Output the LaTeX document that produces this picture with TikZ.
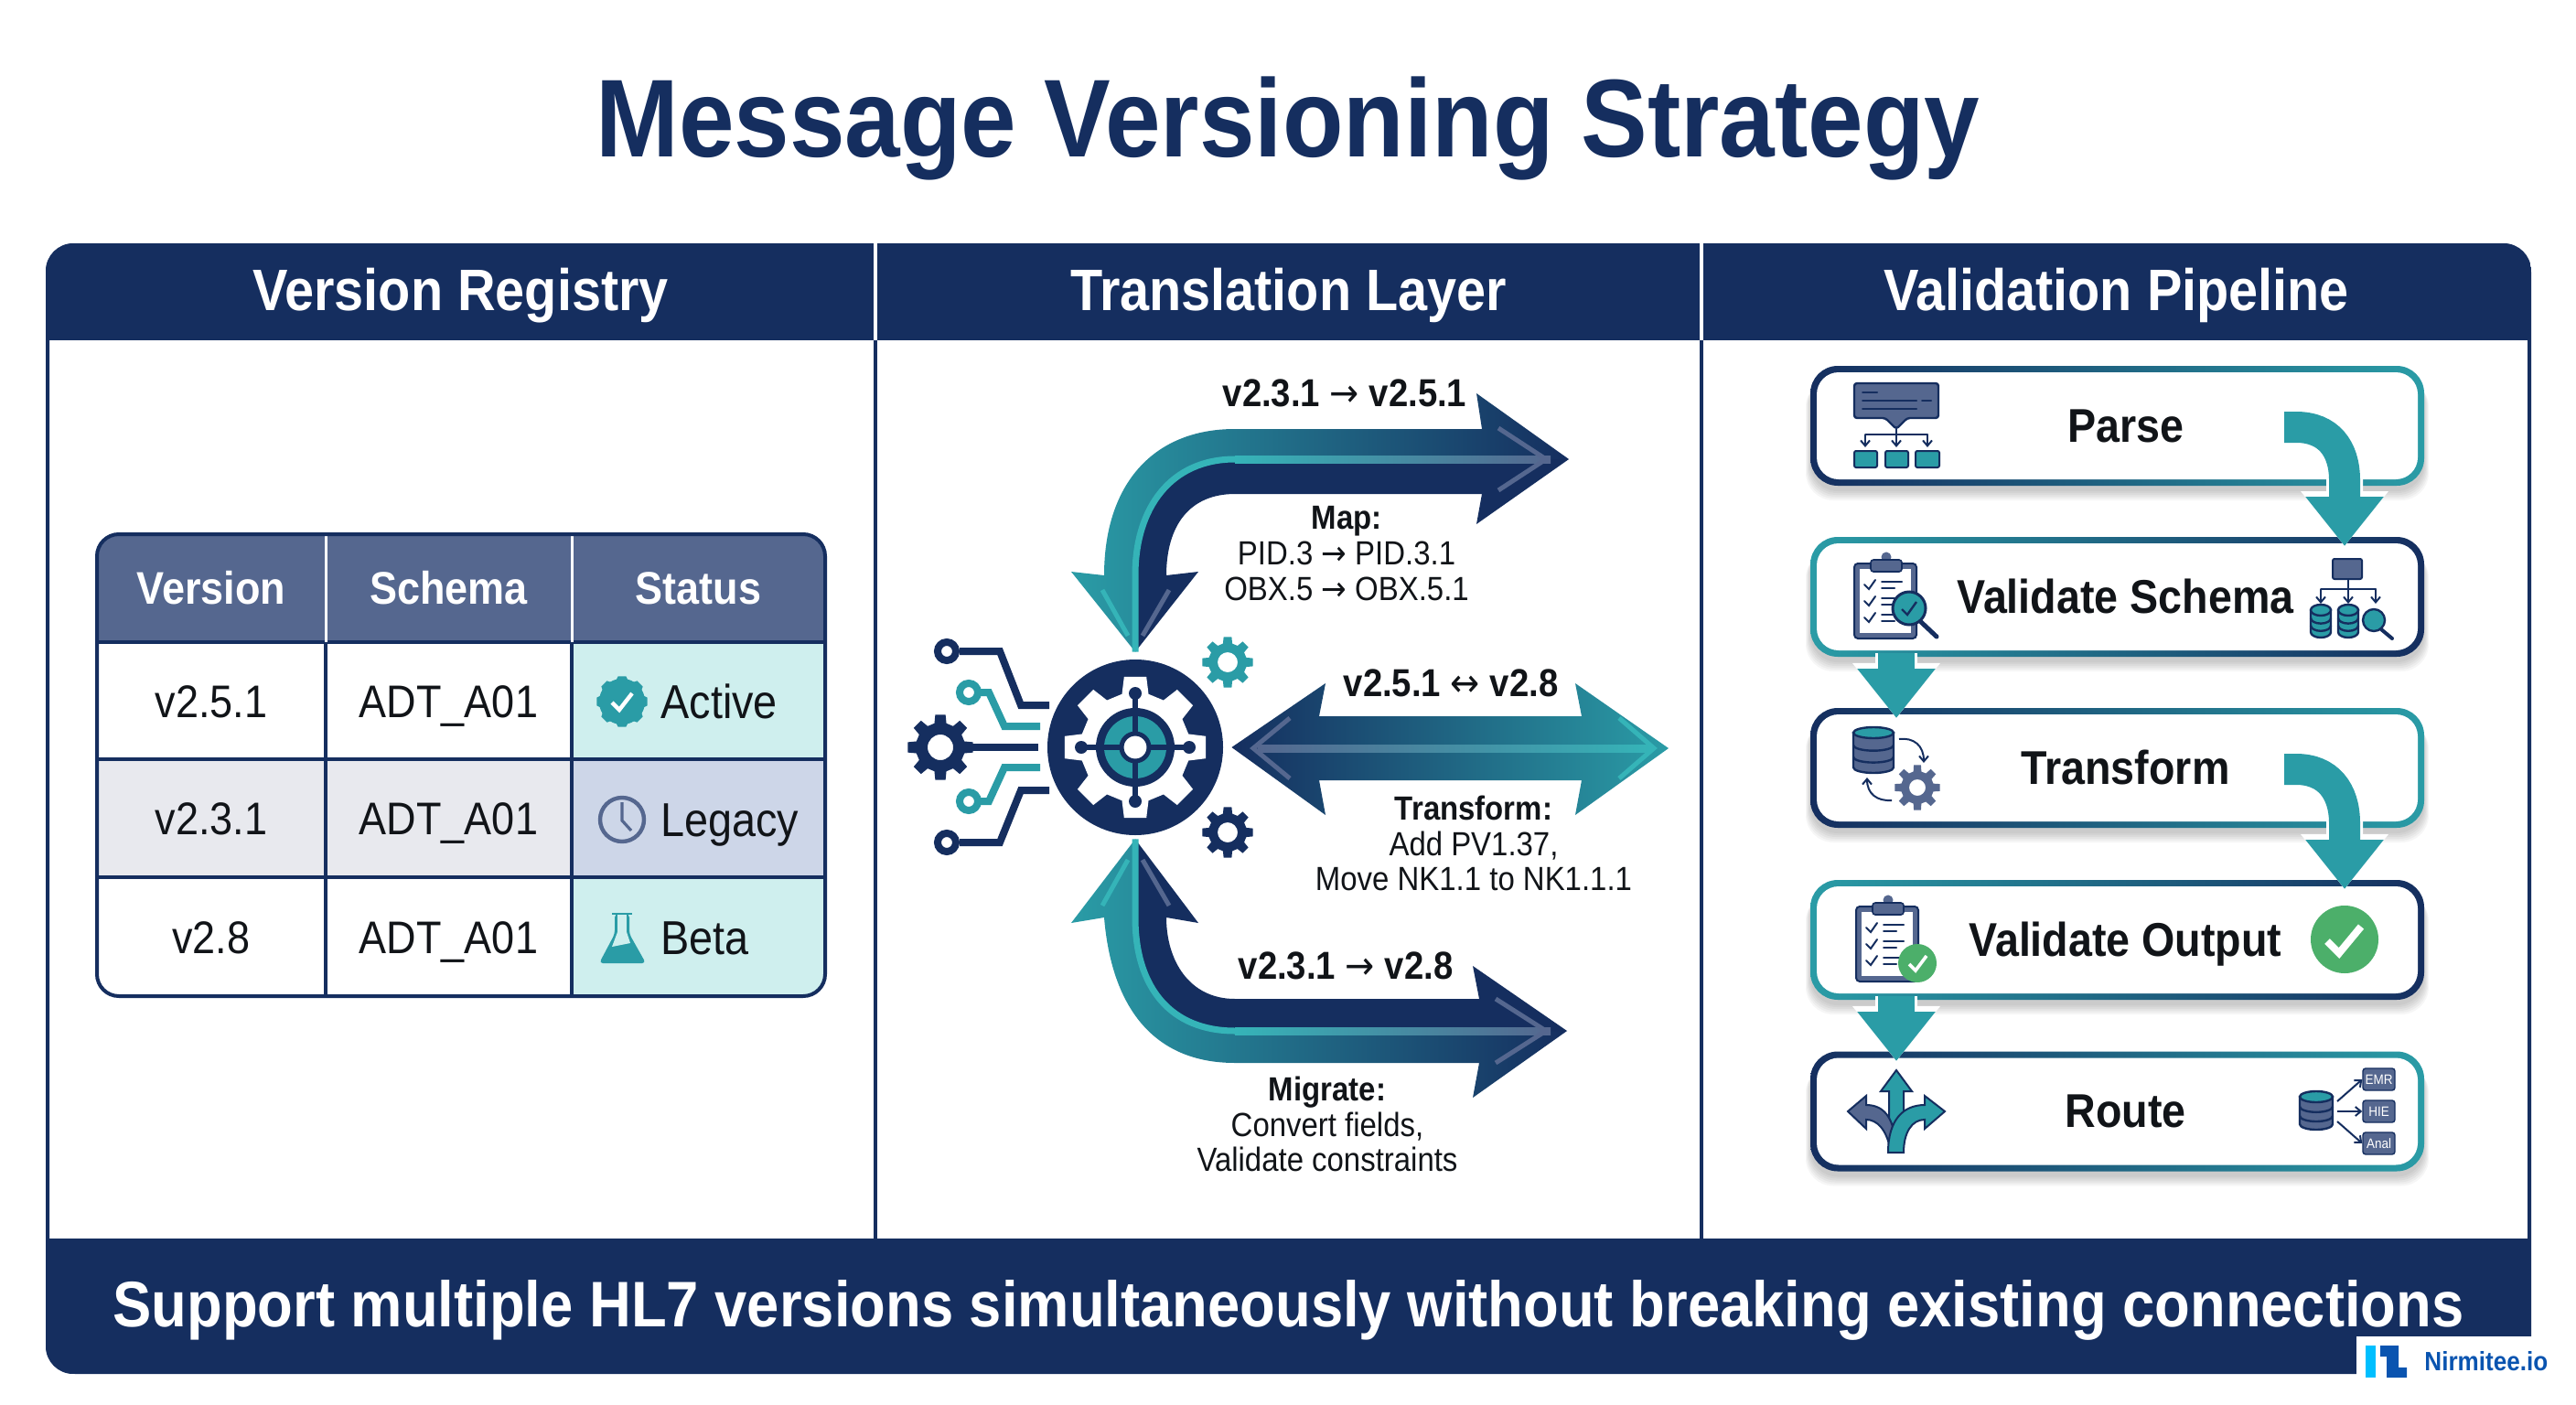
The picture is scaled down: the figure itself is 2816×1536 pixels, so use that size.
\documentclass[tikz,border=0pt]{standalone}
\usepackage{fontspec}
\setmainfont[FakeStretch=0.9]{Liberation Sans}
\newfontfamily\arrowfont[FakeStretch=0.9]{DejaVu Sans}
\usetikzlibrary{positioning,arrows.meta}
\definecolor{navy}{HTML}{152E5F}
\definecolor{tealmain}{HTML}{2A9CA6}
\definecolor{tealbright}{HTML}{35B4B8}
\definecolor{slate}{HTML}{55678F}
\definecolor{paleteal}{HTML}{CFEFEE}
\definecolor{palenavy}{HTML}{CDD6E8}
\definecolor{palegrey}{HTML}{E8E9EE}
\definecolor{okgreen}{HTML}{4CAF6A}
\definecolor{inkblack}{HTML}{111418}
\definecolor{logoblue}{HTML}{0A54B0}
\definecolor{logocyan}{HTML}{00BFFF}
\newcommand{\rarrow}{{\arrowfont\mdseries →}}
\newcommand{\barrow}{{\arrowfont\mdseries ↔}}
\tikzset{
  titletext/.style={text=navy,text height=39pt,text depth=0pt,font=\bfseries\fontsize{60.5}{66}\selectfont},
  panelhead/.style={fill=navy,text=white,inner sep=0pt,text height=20pt,text depth=0pt,font=\bfseries\fontsize{32}{36}\selectfont},
  footband/.style={fill=navy,text=white,inner sep=0pt,text height=22pt,text depth=0pt,font=\bfseries\fontsize{35.2}{40}\selectfont},
  headcell/.style={fill=slate,text=white,inner sep=0pt,minimum height=59pt,font=\bfseries\fontsize{25}{29}\selectfont},
  bodycell/.style={draw=navy,line width=2pt,inner sep=0pt,text=inkblack,text height=18pt,text depth=0pt,font=\fontsize{25}{29}\selectfont},
  statustext/.style={anchor=west,inner sep=0pt,text=inkblack,text height=18.6pt,text depth=0pt,font=\fontsize{26}{30}\selectfont},
  flowlabel/.style={inner sep=0pt,text=inkblack,font=\bfseries\fontsize{21.3}{25}\selectfont},
  flownote/.style={inner sep=0pt,align=center,text=inkblack,font=\fontsize{18.3}{19.4}\selectfont},
  stageframe/.style={rectangle,inner sep=0pt,minimum width=335.5pt,minimum height=65.5pt,rounded corners=15pt},
  stageinner/.style={rectangle,fill=white,inner sep=0pt,minimum width=328.5pt,minimum height=58.5pt,rounded corners=12pt},
  stagetext/.style={inner sep=0pt,text=inkblack,text height=17.5pt,text depth=0pt,font=\bfseries\fontsize{25.9}{30}\selectfont},
  tinybox/.style={rectangle,draw=navy,fill=slate,line width=.7pt,rounded corners=1.5pt,inner sep=0pt,minimum width=17.5pt,minimum height=12pt,text=white,font=\fontsize{7.5}{8}\selectfont},
  barb/.style={navy,line width=1pt,-{Straight Barb[length=3pt,width=5pt]}},
  iconline/.style={navy,line width=1pt,line cap=round},
  flowhalo/.style={white,line width=20pt,-{Triangle[width=46pt,length=30pt]}},
  flowfill/.style={tealmain,line width=17pt,-{Triangle[width=41pt,length=27pt]}},
  dropfill/.style={tealmain,line width=20pt,-{Triangle[width=41pt,length=27pt]}}
}
% gear: x, y, outer radius, root radius, hole radius, colour
\newcommand{\gearfill}[6]{
  \fill[#6,even odd rule,shift={(#1,#2)}] (-14:#4) \foreach \k in {0,45,...,315} { -- ({\k-14}:#4) -- ({\k-9}:#3) -- ({\k+9}:#3) -- ({\k+14}:#4) } -- cycle (0,0) circle[radius=#5];
}
% pipeline box: name, centre y, left colour, right colour, label
\newcommand{\stagebox}[5]{
  \foreach \s in {0,1,2,3,4,5} {
    \fill[black,opacity=.035,rounded corners=15pt] ({1979-\s},{#2-65.5+10+\s}) rectangle ({2650+\s},{#2+65.5+6+2*\s});
  }
  \node[stageframe,left color=#3,right color=#4] (#1frame) at (2314.5,#2) {};
  \node[stageinner] (#1) at (#1frame) {};
  \node[stagetext] (#1label) at ([xshift=4.5pt]#1.center) {#5};
}
% database: x, top y, half width in pt, height in pt, fill
\newcommand{\dbstack}[5]{
  \begin{scope}[shift={(#1,#2)}]
    \filldraw[draw=navy,fill=#5,line width=1.2pt] (-#3pt,0pt) -- (-#3pt,-#4pt) arc[start angle=180,end angle=360,x radius=#3pt,y radius=3pt] -- (#3pt,0pt) -- cycle;
    \draw[navy,line width=1.2pt] (-#3pt,{-0.36*#4pt}) arc[start angle=180,end angle=360,x radius=#3pt,y radius=3pt];
    \draw[navy,line width=1.2pt] (-#3pt,{-0.7*#4pt}) arc[start angle=180,end angle=360,x radius=#3pt,y radius=3pt];
    \filldraw[draw=navy,fill=tealmain,line width=1.2pt] (0pt,0pt) ellipse[x radius=#3pt,y radius=3pt];
  \end{scope}
}
% clipboard: x, y of the top left corner
\newcommand{\boardicon}[2]{
  \begin{scope}[shift={(#1,#2)}]
    \filldraw[draw=navy,fill=slate,line width=1pt,rounded corners=2pt] (0,0) rectangle (68,82);
    \fill[white] (6,6) rectangle (62,76);
    \draw[slate,line width=1.4pt,fill=slate] (35,-7) circle[radius=4];
    \filldraw[draw=navy,fill=slate,line width=.8pt,rounded corners=1.5pt] (18,-4) rectangle (52,9);
    \foreach \r in {23,41,59} {
      \draw[iconline] (11,\r) -- (16,{\r+5}) -- (23,{\r-5});
      \draw[iconline] (30,{\r-3}) -- (52,{\r-3});
      \draw[iconline] (30,{\r+4}) -- (44,{\r+4});
    }
  \end{scope}
}
\begin{document}
\begin{tikzpicture}[x=.5pt,y=-.5pt]
\useasboundingbox (0,0) rectangle (2816,1536);
\fill[white] (0,0) rectangle (2816,1536);

\node[titletext] (title) at (1408,132) {Message Versioning Strategy};

% panels
\draw[navy,line width=2pt,rounded corners=15pt] (52,268) rectangle (2765,1500);
\draw[navy,line width=2pt] (957,372) -- (957,1354);
\draw[navy,line width=2pt] (1860,372) -- (1860,1354);
\begin{scope}
  \clip[rounded corners=15pt] (50,266) rectangle (2767,1502);
  \node[panelhead,minimum width=453.5pt,minimum height=53pt] (registryhead) at (503.5,319) {Version Registry};
  \node[panelhead,minimum width=451.5pt,minimum height=53pt] (layerhead) at (1408.5,319) {Translation Layer};
  \node[panelhead,minimum width=453.5pt,minimum height=53pt] (pipelinehead) at (2313.5,319) {Validation Pipeline};
  \node[footband,minimum width=1358.5pt,minimum height=74pt] (footer) at (1408.5,1428) {Support multiple HL7 versions simultaneously without breaking existing connections};
\end{scope}
\draw[white,line width=2pt] (registryhead.north east) -- (registryhead.south east);
\draw[white,line width=2pt] (layerhead.north east) -- (layerhead.south east);

% version table
\begin{scope}
  \clip[rounded corners=12pt] (106,584) rectangle (902,1089);
  \node[headcell,minimum width=125pt] (versionhead) at (231,643) {Version};
  \node[headcell,minimum width=134.5pt] (schemahead) at (490.5,643) {Schema};
  \node[headcell,minimum width=138.5pt] (statushead) at (763.5,643) {Status};
  \node[bodycell,minimum width=125pt,minimum height=64pt] (v251) at (231,766) {v2.5.1};
  \node[bodycell,minimum width=134.5pt,minimum height=64pt] (schemaa) at (490.5,766) {ADT\_A01};
  \node[bodycell,minimum width=138.5pt,minimum height=64pt,fill=paleteal] (activecell) at (763.5,766) {};
  \node[bodycell,minimum width=125pt,minimum height=64.5pt,fill=palegrey] (v231) at (231,894.5) {v2.3.1};
  \node[bodycell,minimum width=134.5pt,minimum height=64.5pt,fill=palegrey] (schemab) at (490.5,894.5) {ADT\_A01};
  \node[bodycell,minimum width=138.5pt,minimum height=64.5pt,fill=palenavy] (legacycell) at (763.5,894.5) {};
  \node[bodycell,minimum width=125pt,minimum height=65pt] (v28) at (231,1024) {v2.8};
  \node[bodycell,minimum width=134.5pt,minimum height=65pt] (schemac) at (490.5,1024) {ADT\_A01};
  \node[bodycell,minimum width=138.5pt,minimum height=65pt,fill=paleteal] (betacell) at (763.5,1024) {};
\end{scope}
\draw[white,line width=1.5pt] (versionhead.north east) -- (versionhead.south east);
\draw[white,line width=1.5pt] (schemahead.north east) -- (schemahead.south east);
\draw[navy,line width=2pt,rounded corners=12pt] (106,584) rectangle (902,1089);
\node[statustext] (activetext) at (722,767) {Active};
\node[statustext] (legacytext) at (722,896) {Legacy};
\node[statustext] (betatext) at (722,1025) {Beta};
% status icons
\gearfill{680}{767}{28}{25}{0}{tealmain}
\fill[tealmain] (680,767) circle[radius=25];
\draw[white,line width=2.2pt] (669,768) -- (677,776) -- (691,758);
\draw[slate,line width=2.2pt] (680,896) circle[radius=24];
\draw[slate,line width=1.6pt] (680,877) -- (680,897) -- (690,908);
\draw[tealmain,line width=1.4pt] (669,999) -- (691,999);
\fill[tealmain,rounded corners=2pt] (672,999) -- (688,999) -- (688,1021) -- (706,1053) -- (655,1053) -- (672,1021) -- cycle;
\fill[paleteal] (675,1000) rectangle (685,1019);
\fill[paleteal] (675,1019) -- (685,1019) -- (689,1031) -- (669,1035) -- cycle;

% translation layer, hub first
\node[circle,fill=navy,minimum size=96pt,inner sep=0pt] (hub) at (1241,817) {};
\gearfill{1241}{817}{78}{60}{0}{white}
\draw[navy,line width=5pt] (1241,817) circle[radius=38];
\fill[tealmain] (1241,817) circle[radius=34];
\draw[navy,line width=3pt] (1241,760) -- (1241,874);
\draw[navy,line width=3pt] (1184,817) -- (1298,817);
\fill[navy] (1241,758) circle[radius=7];
\fill[navy] (1241,876) circle[radius=7];
\fill[navy] (1182,817) circle[radius=7];
\fill[navy] (1300,817) circle[radius=7];
\fill[white] (1241,817) circle[radius=13];
\draw[navy,line width=2.5pt] (1241,817) circle[radius=15];
\gearfill{1342}{724}{28}{21}{11}{tealmain}
\gearfill{1342}{910}{28}{21}{11}{navy}
\gearfill{1028}{817}{36}{27}{14}{navy}
% circuit traces
\draw[navy,line width=4pt] (1049,712) -- (1093,712) -- (1116,771) -- (1147,771);
\draw[navy,line width=4pt] (1035,712) circle[radius=10];
\draw[tealmain,line width=4pt] (1069,757) -- (1081,757) -- (1098,794) -- (1137,794);
\draw[tealmain,line width=4pt] (1059,757) circle[radius=10];
\draw[navy,line width=4pt] (1060,817) -- (1135,817);
\draw[tealmain,line width=4pt] (1069,876) -- (1081,876) -- (1098,839) -- (1137,839);
\draw[tealmain,line width=4pt] (1059,876) circle[radius=10];
\draw[navy,line width=4pt] (1049,921) -- (1093,921) -- (1116,864) -- (1147,864);
\draw[navy,line width=4pt] (1035,921) circle[radius=10];

\coordinate (maptip) at ([yshift=4pt]hub.north);
\coordinate (migratetip) at ([yshift=-2pt]hub.south);
\coordinate (transformtip) at ([xshift=4.5pt]hub.east);

% map arrow
\shade[left color=tealmain,middle color=tealmain!55!navy,right color=navy] (maptip) -- (1171,625) -- (1207,629) .. controls (1207,530) and (1260,469) .. (1350,469) -- (1620,469) -- (1614,430) -- (1715,502) -- (1350,502) .. controls (1280,502) and (1241,555) .. (1241,629) -- cycle;
\fill[navy] (maptip) -- (1310,625) -- (1275,629) .. controls (1275,575) and (1300,540) .. (1350,540) -- (1620,540) -- (1614,573) -- (1715,502) -- (1350,502) .. controls (1280,502) and (1241,555) .. (1241,629) -- cycle;
\draw[tealbright,line width=3.5pt] (maptip) -- (1241,629) .. controls (1241,555) and (1280,502) .. (1350,502);
\shade[left color=tealbright,right color=slate] (1350,498) rectangle (1695,506);
\draw[slate,line width=2.5pt] (1638,468) -- (1690,502) -- (1638,536);
\draw[slate,line width=2.5pt] (1249,695) -- (1278,645);
\draw[tealbright,line width=2.5pt] (1233,695) -- (1205,645);

% transform arrow
\shade[left color=navy,middle color=navy!65!tealmain,right color=tealmain] (transformtip) -- (1449,747) -- (1442,783) -- (1729,783) -- (1722,747) -- (1824,818) -- (1722,891) -- (1729,853) -- (1442,853) -- (1449,891) -- cycle;
\shade[left color=slate,middle color=slate!60!tealmain,right color=tealbright] (1375,814) rectangle (1805,822);
\draw[slate,line width=2.5pt] (1410,785) -- (1370,818) -- (1410,851);
\draw[tealbright,line width=2.5pt] (1770,785) -- (1808,818) -- (1770,851);

% migrate arrow
\shade[left color=tealmain,middle color=tealmain!55!navy,right color=navy] (migratetip) -- (1171,1009) -- (1207,1003) .. controls (1215,1100) and (1260,1162) .. (1350,1162) -- (1617,1162) -- (1610,1200) -- (1713,1127) -- (1350,1127) .. controls (1280,1127) and (1241,1080) .. (1241,1003) -- cycle;
\fill[navy] (migratetip) -- (1310,1009) -- (1275,1003) .. controls (1275,1050) and (1300,1092) .. (1350,1092) -- (1617,1092) -- (1610,1056) -- (1713,1127) -- (1350,1127) .. controls (1280,1127) and (1241,1080) .. (1241,1003) -- cycle;
\draw[tealbright,line width=3.5pt] (migratetip) -- (1241,1003) .. controls (1241,1080) and (1280,1127) .. (1350,1127);
\shade[left color=tealbright,right color=slate] (1350,1123) rectangle (1695,1131);
\draw[slate,line width=2.5pt] (1635,1092) -- (1690,1127) -- (1635,1162);
\draw[slate,line width=2.5pt] (1249,940) -- (1278,990);
\draw[tealbright,line width=2.5pt] (1233,940) -- (1205,990);

\node[flowlabel] (maplabel) at (1470,430) {v2.3.1 \rarrow{} v2.5.1};
\node[flownote] (mapnote) at (1472,605) {\textbf{Map:}\\PID.3 \rarrow{} PID.3.1\\OBX.5 \rarrow{} OBX.5.1};
\node[flowlabel] (transformlabel) at (1586,747) {v2.5.1 \barrow{} v2.8};
\node[flownote] (transformnote) at (1611,922) {\textbf{Transform:}\\Add PV1.37,\\Move NK1.1 to NK1.1.1};
\node[flowlabel] (migratelabel) at (1471,1056) {v2.3.1 \rarrow{} v2.8};
\node[flownote] (migratenote) at (1451,1229) {\textbf{Migrate:}\\Convert fields,\\Validate constraints};

% validation pipeline
\stagebox{parse}{465.5}{navy}{tealmain}{Parse}
\stagebox{schema}{652.5}{tealmain}{navy}{Validate Schema}
\stagebox{transform}{839.5}{navy}{tealmain}{Transform}
\stagebox{output}{1027.5}{tealmain}{navy}{Validate Output}
\stagebox{route}{1215}{navy}{tealmain}{Route}

\coordinate (parseout) at (2497,467);
\coordinate (schemain) at (2563,597);
\coordinate (schemaout) at (2073,714);
\coordinate (transformin) at (2073,785);
\coordinate (transformout) at (2497,841);
\coordinate (outputin) at (2563,972);
\coordinate (outputout) at (2073,1089);
\coordinate (routein) at (2073,1160);

\draw[flowhalo] (2530,467) .. controls (2550,467) and (2563,490) .. (2563,525) -- (schemain);
\draw[flowfill] (parseout) -- (2510,467) .. controls (2545,467) and (2563,490) .. (2563,525) -- (schemain);
\draw[flowhalo,line width=23pt] (schemaout) -- (transformin);
\draw[dropfill] (schemaout) -- (transformin);
\draw[flowhalo] (2530,841) .. controls (2550,841) and (2563,865) .. (2563,900) -- (outputin);
\draw[flowfill] (transformout) -- (2510,841) .. controls (2545,841) and (2563,865) .. (2563,900) -- (outputin);
\draw[flowhalo,line width=23pt] (outputout) -- (routein);
\draw[dropfill] (outputout) -- (routein);

% parse icon
\filldraw[draw=navy,fill=slate,line width=1.2pt,rounded corners=1.5pt] (2027,419) -- (2119,419) -- (2119,457) -- (2085,457) -- (2073,469) -- (2061,457) -- (2027,457) -- cycle;
\draw[iconline] (2036,429) -- (2052,429);
\draw[iconline] (2036,438) -- (2095,438);
\draw[iconline] (2101,438) -- (2111,438);
\draw[iconline] (2036,447) -- (2095,447);
\draw[iconline] (2039,475) -- (2107,475);
\draw[barb] (2039,475) -- (2039,489);
\draw[barb] (2073,469) -- (2073,489);
\draw[barb] (2107,475) -- (2107,489);
\filldraw[draw=navy,fill=tealmain,line width=1pt,rounded corners=1pt] (2027,493) rectangle (2052,511);
\filldraw[draw=navy,fill=tealmain,line width=1pt,rounded corners=1pt] (2061,493) rectangle (2086,511);
\filldraw[draw=navy,fill=tealmain,line width=1pt,rounded corners=1pt] (2094,493) rectangle (2120,511);

% schema icons
\boardicon{2027}{616}
\draw[navy,line width=2.5pt,line cap=round] (2100,680) -- (2117,696);
\filldraw[draw=navy,fill=tealmain,line width=1.5pt] (2087,665) circle[radius=18];
\draw[navy,line width=1.2pt] (2079,666) -- (2085,672) -- (2095,658);
\filldraw[draw=navy,fill=slate,line width=1pt,rounded corners=1pt] (2550,611) rectangle (2582,633);
\draw[iconline] (2537,644) -- (2597,644);
\draw[barb] (2537,644) -- (2537,660);
\draw[barb] (2567,633) -- (2567,660);
\draw[barb] (2597,644) -- (2597,660);
\dbstack{2537}{667}{5.5}{12}{tealmain}
\dbstack{2567}{667}{5.5}{12}{tealmain}
\draw[navy,line width=2pt,line cap=round] (2603,688) -- (2615,698);
\filldraw[draw=navy,fill=tealmain,line width=1.2pt] (2595,678) circle[radius=12];

% transform icon
\dbstack{2048}{801}{11}{19}{slate}
\gearfill{2096}{861}{25}{18}{9}{slate}
\draw[barb] (2076,808) .. controls (2092,806) and (2103,815) .. (2103,834);
\draw[barb] (2068,875) .. controls (2052,876) and (2041,868) .. (2041,850);

% output icons
\boardicon{2029}{991}
\fill[okgreen] (2096,1053) circle[radius=21];
\draw[white,line width=1.8pt] (2087,1054) -- (2094,1061) -- (2106,1045);
\fill[okgreen] (2563,1027) circle[radius=37];
\draw[white,line width=4pt] (2544,1029) -- (2557,1042) -- (2581,1013);

% route icons
\filldraw[draw=navy,fill=tealmain,line width=1pt] (2073,1170) -- (2090,1193) -- (2081,1193) -- (2081,1240) -- (2065,1240) -- (2065,1193) -- (2056,1193) -- cycle;
\filldraw[draw=navy,fill=slate,line width=1pt] (2020,1215) -- (2040,1198) -- (2040,1208) .. controls (2058,1208) and (2070,1220) .. (2072,1250) -- (2066,1255) .. controls (2062,1235) and (2052,1224) .. (2040,1224) -- (2040,1234) -- cycle;
\filldraw[draw=navy,fill=tealmain,line width=1pt] (2126,1215) -- (2104,1198) -- (2104,1208) .. controls (2080,1208) and (2064,1225) .. (2064,1260) -- (2081,1260) .. controls (2081,1238) and (2090,1224) .. (2104,1224) -- (2104,1234) -- cycle;
\dbstack{2532}{1199}{9}{15}{slate}
\node[tinybox] (emr) at (2600.5,1180) {EMR};
\node[tinybox] (hie) at (2600.5,1215) {HIE};
\node[tinybox] (anal) at (2600.5,1250) {Anal};
\coordinate (routedb) at (2555,1215);
\draw[barb] (2555,1204) -- (emr.west);
\draw[barb] (routedb) -- (hie.west);
\draw[barb] (2555,1226) -- (anal.west);

% logo
\node[rectangle,fill=white,minimum width=112pt,minimum height=25pt,inner sep=0pt] (logoback) at (2688,1486) {};
\fill[logocyan] (2586,1471) rectangle (2597,1506);
\fill[logoblue] (2602,1471) -- (2622,1471) -- (2622,1495) -- (2631,1495) -- (2631,1506) -- (2609,1506) -- (2609,1483) -- (2602,1483) -- cycle;
\node[inner sep=0pt,anchor=west,text=logoblue,font=\bfseries\fontsize{14.5}{17}\selectfont] (logotext) at (2650,1488) {Nirmitee.io};
\end{tikzpicture}
\end{document}
